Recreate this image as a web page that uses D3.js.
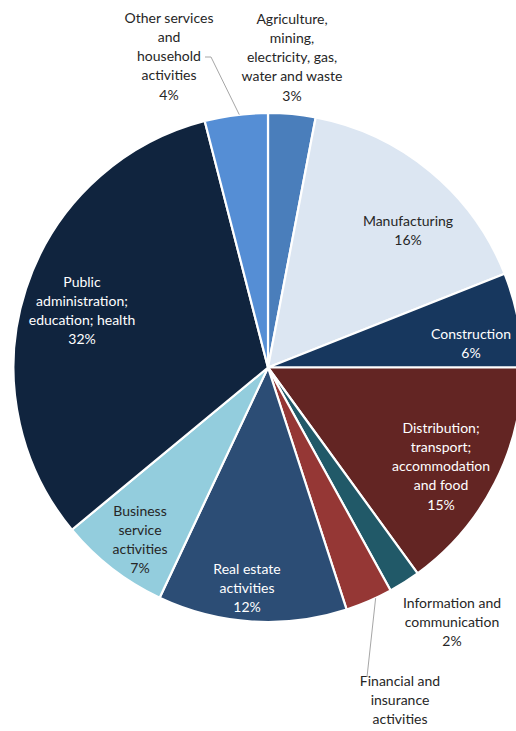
<!DOCTYPE html>
<html>
<head>
<meta charset="utf-8">
<script src="https://cdn.jsdelivr.net/npm/d3@7/dist/d3.min.js"></script>
<style>
  html, body { margin: 0; padding: 0; background: #fff; }
  svg { display: block; }
  text { font-family: Lato, "Open Sans", sans-serif; font-size: 14px; }
</style>
</head>
<body>
<svg id="chart" width="516" height="731"></svg>
<script>
// Share of output by sector (%)
const sectors = [
  "Agriculture, mining, electricity, gas, water and waste",
  "Manufacturing",
  "Construction",
  "Distribution; transport; accommodation and food",
  "Information and communication",
  "Financial and insurance activities",
  "Real estate activities",
  "Business service activities",
  "Public administration; education; health",
  "Other services and household activities"
];
const shares = [3, 16, 6, 15, 2, 3, 12, 7, 32, 4];
const colors = ["#4a7ebb", "#dce6f2", "#17375e", "#632523", "#215968",
                "#953735", "#2c4d75", "#93cddd", "#10243e", "#558ed5"];
// Label text broken into lines, and whether the label shows its percentage
const labelLines = [
  ["Agriculture,", "mining,", "electricity, gas,", "water and waste"],
  ["Manufacturing"],
  ["Construction"],
  ["Distribution;", "transport;", "accommodation", "and food"],
  ["Information and", "communication"],
  ["Financial and", "insurance", "activities"],
  ["Real estate", "activities"],
  ["Business", "service", "activities"],
  ["Public", "administration;", "education; health"],
  ["Other services", "and", "household", "activities"]
];
const showPct = [true, true, true, true, true, false, true, true, true, true];
// Labels drawn outside the pie use dark text
const outside = [true, false, false, false, true, true, false, false, false, true];

const svg = d3.select("#chart");
const cx = 268, cy = 367.5, radius = 254.5;
const lineH = 19.3;

const data = sectors.map((s, i) => ({ name: s, value: shares[i], color: colors[i],
  lines: showPct[i] ? labelLines[i].concat([shares[i] + "%"]) : labelLines[i] }));

const pie = d3.pie().value(d => d.value).sort(null);
const arcs = pie(data);
const arc = d3.arc().innerRadius(0).outerRadius(radius);

const g = svg.append("g").attr("transform", `translate(${cx},${cy})`);
g.selectAll("path.slice")
  .data(arcs)
  .join("path")
  .attr("class", "slice")
  .attr("d", arc)
  .attr("fill", d => d.data.color)
  .attr("stroke", "#fff")
  .attr("stroke-width", 2.2)
  .attr("stroke-linejoin", "round");

// Centre of the first line of each label block
const labelPos = [
  { x: 292, y: 18 }, { x: 408, y: 220 }, { x: 471, y: 333 }, { x: 441, y: 427 },
  { x: 452, y: 602 }, { x: 400, y: 680 }, { x: 247, y: 568 }, { x: 140, y: 510 },
  { x: 82, y: 281 }, { x: 169, y: 17 }
];

const isLight = c => d3.hsl(c).l > 0.6;
const labels = svg.append("g");
arcs.forEach((a, i) => {
  const dark = outside[i] || isLight(a.data.color);
  const t = labels.append("text")
    .attr("text-anchor", "middle")
    .attr("fill", dark ? "#262626" : "#ffffff");
  a.data.lines.forEach((ln, k) => {
    t.append("tspan")
      .attr("x", labelPos[i].x)
      .attr("y", labelPos[i].y + k * lineH)
      .attr("dominant-baseline", "central")
      .text(ln);
  });
});

// Leader lines for the two small slices whose labels sit away from them
const rimPoint = (a, f) => {
  const ang = a.startAngle + (a.endAngle - a.startAngle) * f;
  return [cx + Math.sin(ang) * radius, cy - Math.cos(ang) * radius];
};
const otherRim = rimPoint(arcs[9], 0.55);
const finRim = rimPoint(arcs[5], 0.35);
const leader = d3.line();
svg.append("path")
  .attr("d", leader([[205, 57], [211, 57], otherRim]))
  .attr("fill", "none").attr("stroke", "#a6a6a6").attr("stroke-width", 1);
svg.append("path")
  .attr("d", leader([finRim, [367, 677]]))
  .attr("fill", "none").attr("stroke", "#a6a6a6").attr("stroke-width", 1);
</script>
</body>
</html>
